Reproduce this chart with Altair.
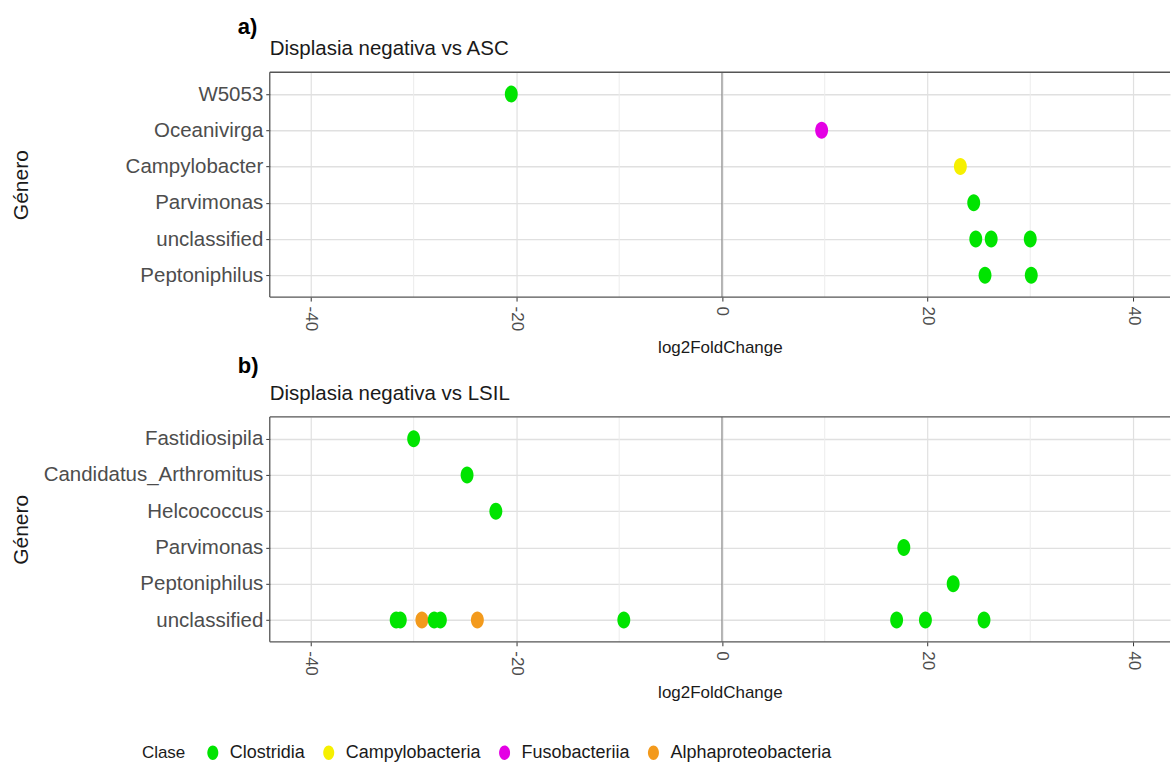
import altair as alt
import pandas as pd

# ---- Panel a: Displasia negativa vs ASC ----
asc_genus = ["W5053", "Oceanivirga", "Campylobacter", "Parvimonas",
             "unclassified", "unclassified", "unclassified",
             "Peptoniphilus", "Peptoniphilus"]
asc_lfc = [-20.5, 9.7, 23.2, 24.5, 24.7, 26.2, 30.0, 25.6, 30.1]
asc_class = ["Clostridia", "Fusobacteriia", "Campylobacteria", "Clostridia",
             "Clostridia", "Clostridia", "Clostridia",
             "Clostridia", "Clostridia"]
asc_order = ["W5053", "Oceanivirga", "Campylobacter", "Parvimonas",
             "unclassified", "Peptoniphilus"]

# ---- Panel b: Displasia negativa vs LSIL ----
lsil_genus = ["Fastidiosipila", "Candidatus_Arthromitus", "Helcococcus",
              "Parvimonas", "Peptoniphilus"] + ["unclassified"] * 10
lsil_lfc = [-30.0, -24.8, -22.0, 17.7, 22.5,
            -31.7, -31.3, -29.2, -28.0, -27.4, -23.8, -9.55, 17.0, 19.8, 25.5]
lsil_class = ["Clostridia"] * 5 + [
    "Clostridia", "Clostridia", "Alphaproteobacteria", "Clostridia",
    "Clostridia", "Alphaproteobacteria", "Clostridia", "Clostridia",
    "Clostridia", "Clostridia"]
lsil_order = ["Fastidiosipila", "Candidatus_Arthromitus", "Helcococcus",
              "Parvimonas", "Peptoniphilus", "unclassified"]

# ---- Shared colour key and breaks ----
class_names = ["Clostridia", "Campylobacteria", "Fusobacteriia",
               "Alphaproteobacteria"]
class_colors = ["#00e400", "#f6f000", "#e400e4", "#f39a1c"]
major_breaks = [-40, -20, 0, 20, 40]
minor_breaks = [-30, -10, 10, 30]
zero_line = [0]

W, H = 901, 225
X_DOMAIN = [-44, 43.6]
FONT = "Liberation Sans, Arial, sans-serif"
ELLIPSE = "M-0.76,0A0.76,1,0,1,0,0.76,0A0.76,1,0,1,0,-0.76,0Z"

x_scale = alt.Scale(domain=X_DOMAIN, nice=False, zero=False)

x_axis = alt.Axis(
    values=major_breaks, labelAngle=90, labelExpr="'' + datum.value",
    labelFont=FONT, labelFontSize=17, labelColor="#4d4d4d",
    labelPadding=5, labelFlush=False, labelOverlap=False,
    tickColor="#333333", tickSize=4, tickWidth=1, domain=False,
    grid=True, gridColor="#e0e0e0", gridWidth=1.2,
    title="log2FoldChange", titleFont=FONT, titleFontSize=17,
    titleFontWeight="normal", titleColor="#1a1a1a", titlePadding=9,
)

legend = alt.Legend(
    orient="none", legendX=-128, legendY=672, direction="horizontal",
    title="Clase", titleOrient="left", titleFont=FONT, titleFontSize=17,
    titleFontWeight="normal", titleColor="#1a1a1a", titlePadding=18,
    labelFont=FONT, labelFontSize=18, labelColor="#1a1a1a", labelLimit=300,
    labelOffset=8, columnPadding=14, symbolType=ELLIPSE, symbolSize=210,
    symbolStrokeWidth=0,
)


def panel(genus, lfc, cls, order, title, tag, tag_y):
    df = pd.DataFrame({"Genero": genus, "log2FoldChange": lfc, "Clase": cls})
    y_enc = alt.Y(
        "Genero:N", sort=order,
        scale=alt.Scale(type="point", padding=0.6, domain=order),
        axis=alt.Axis(
            title="Género", titleAngle=-90, titleX=-248, titleY=H / 2,
            titleAlign="center", titleBaseline="middle", titleFont=FONT,
            titleFontSize=21, titleFontWeight="normal", titleColor="#1a1a1a",
            labelFont=FONT, labelFontSize=20.5, labelColor="#4d4d4d",
            labelPadding=3, labelLimit=400, tickColor="#333333", tickSize=4,
            domain=False, grid=True, gridColor="#e0e0e0", gridWidth=1.4,
        ),
    )
    x_enc = alt.X("log2FoldChange:Q", scale=x_scale, axis=x_axis)

    minor = alt.Chart(pd.DataFrame({"log2FoldChange": minor_breaks})).mark_rule(
        color="#ececec", strokeWidth=1
    ).encode(x=x_enc)
    zero = alt.Chart(pd.DataFrame({"log2FoldChange": zero_line})).mark_rule(
        color="#8c8c8c", strokeWidth=1.2
    ).encode(x=x_enc)
    points = alt.Chart(df).mark_point(
        filled=True, shape=ELLIPSE, size=289, opacity=1
    ).encode(
        x=x_enc, y=y_enc,
        color=alt.Color("Clase:N",
                        scale=alt.Scale(domain=class_names, range=class_colors),
                        legend=legend),
    )
    head = pd.DataFrame({"tag": [tag], "title": [title]})
    border_style = dict(color="#555555", strokeWidth=1.3)
    top = alt.Chart(head).mark_rule(**border_style).encode(
        x=alt.value(0), x2=alt.value(W), y=alt.value(0))
    bottom = alt.Chart(head).mark_rule(**border_style).encode(
        x=alt.value(0), x2=alt.value(W), y=alt.value(H))
    left = alt.Chart(head).mark_rule(**border_style).encode(
        x=alt.value(0), y=alt.value(0), y2=alt.value(H))
    tag_text = alt.Chart(head).mark_text(
        font=FONT, fontSize=22, fontWeight="bold", align="left",
        baseline="alphabetic", color="#000000"
    ).encode(text="tag:N", x=alt.value(-32), y=alt.value(tag_y))
    title_text = alt.Chart(head).mark_text(
        font=FONT, fontSize=20.5, align="left", baseline="alphabetic",
        color="#1a1a1a"
    ).encode(text="title:N", x=alt.value(0), y=alt.value(-17))

    return alt.layer(minor, zero, points, top, bottom, left,
                     tag_text, title_text).properties(width=W, height=H)


panel_a = panel(asc_genus, asc_lfc, asc_class, asc_order,
                "Displasia negativa vs ASC", "a)", -38)
panel_b = panel(lsil_genus, lsil_lfc, lsil_class, lsil_order,
                "Displasia negativa vs LSIL", "b)", -44)

chart = alt.vconcat(panel_a, panel_b, spacing=120, bounds="flush").properties(
    padding={"left": 11, "top": 16, "right": 0, "bottom": 0},
    background="white",
).configure_view(stroke=None)

chart.save("out.html", embed_options={"renderer": "svg", "actions": False})
